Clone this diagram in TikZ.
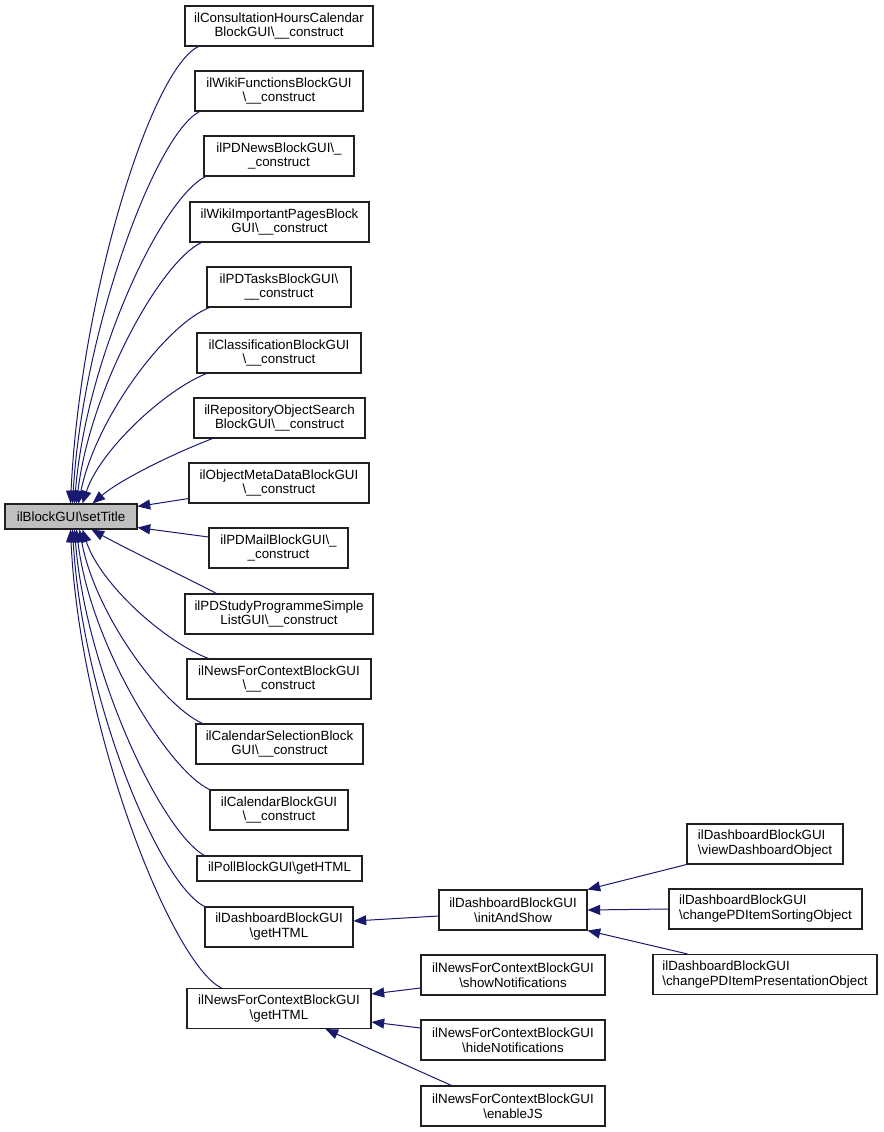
\documentclass[tikz,border=0pt]{standalone}
\usepackage{fontspec}
\setmainfont{Liberation Sans}
\usetikzlibrary{calc,arrows.meta}
\definecolor{edgeblue}{HTML}{191970}
\definecolor{mainfill}{HTML}{BFBFBF}
\definecolor{boxline}{HTML}{202020}
\tikzset{
  box/.style={draw=boxline, line width=0.8pt, fill=white, inner sep=0pt, align=center,
    font=\fontsize{10}{11.2}\selectfont, minimum height=30pt},
  lbox/.style={box, align=left},
  bw/.style={minimum width=#1*0.75pt},
  bh/.style={minimum height=#1*0.75pt},
  edge/.style={draw=edgeblue, line width=0.75pt, -{Triangle[length=9.5pt,width=7.5pt]}},
}
\begin{document}
\begin{tikzpicture}[x=0.75pt,y=-0.75pt]
\useasboundingbox (0,0) rectangle (883,1132);
\def\bs{\textbackslash}
% main node
\node[box, bw=132, bh=25, fill=mainfill] (main) at (71,516.5) {ilBlockGUI\bs setTitle};
% left column
\node[box, bw=188] (cons) at (279,26) {ilConsultationHoursCalendar\\BlockGUI\bs\_\_construct};
\node[box, bw=168] (wikif) at (279,91) {ilWikiFunctionsBlockGUI\\\bs\_\_construct};
\node[box, bw=150] (pdnews) at (279,156) {ilPDNewsBlockGUI\bs\_\\\_construct};
\node[box, bw=179] (wikiimp) at (279.5,222) {ilWikiImportantPagesBlock\\GUI\bs\_\_construct};
\node[box, bw=144] (pdtasks) at (279,287) {ilPDTasksBlockGUI\bs\\\_\_construct};
\node[box, bw=164] (classif) at (279,353) {ilClassificationBlockGUI\\\bs\_\_construct};
\node[box, bw=171] (repo) at (279.5,418) {ilRepositoryObjectSearch\\BlockGUI\bs\_\_construct};
\node[box, bw=180] (objmeta) at (279,483) {ilObjectMetaDataBlockGUI\\\bs\_\_construct};
\node[box, bw=139] (pdmail) at (278.5,548) {ilPDMailBlockGUI\bs\_\\\_construct};
\node[box, bw=188] (pdstudy) at (279,614) {ilPDStudyProgrammeSimple\\ListGUI\bs\_\_construct};
\node[box, bw=184] (nfcc) at (279,679) {ilNewsForContextBlockGUI\\\bs\_\_construct};
\node[box, bw=167] (calsel) at (279.5,744) {ilCalendarSelectionBlock\\GUI\bs\_\_construct};
\node[box, bw=138] (calblk) at (279,810) {ilCalendarBlockGUI\\\bs\_\_construct};
\node[box, bw=165, bh=25] (poll) at (279.5,868.5) {ilPollBlockGUI\bs getHTML};
\node[box, bw=148] (dashhtml) at (279,927) {ilDashboardBlockGUI\\\bs getHTML};
\node[box, bw=184] (nfchtml) at (279,1008.5) {ilNewsForContextBlockGUI\\\bs getHTML};
% middle column
\node[box, bw=148] (init) at (513,910) {ilDashboardBlockGUI\\\bs initAndShow};
\node[box, bw=184] (show) at (513,975) {ilNewsForContextBlockGUI\\\bs showNotifications};
\node[box, bw=184] (hide) at (513,1040) {ilNewsForContextBlockGUI\\\bs hideNotifications};
\node[box, bw=184] (enable) at (513,1106) {ilNewsForContextBlockGUI\\\bs enableJS};
% right column
\node[lbox, bw=156] (view) at (765,844) {ilDashboardBlockGUI\\\bs viewDashboardObject};
\node[lbox, bw=193] (sort) at (765.5,909) {ilDashboardBlockGUI\\\bs changePDItemSortingObject};
\node[lbox, bw=224] (pres) at (765,974.5) {ilDashboardBlockGUI\\\bs changePDItemPresentationObject};
% edges to main (top)
\draw[edge] ($(cons.south west)+(14,0)$) .. controls (150,70) and (80,300) .. ($(main.north west)+(66,0)$);
\draw[edge] ($(wikif.south west)+(5,0)$) .. controls (155,135) and (83,330) .. ($(main.north west)+(68,0)$);
\draw[edge] ($(pdnews.south west)+(2,0)$) .. controls (160,200) and (86,360) .. ($(main.north west)+(70,0)$);
\draw[edge] ($(wikiimp.south west)+(12,0)$) .. controls (160,262) and (90,390) .. ($(main.north west)+(72,0)$);
\draw[edge] ($(pdtasks.south west)+(3,0)$) .. controls (165,325) and (95,420) .. ($(main.north west)+(74,0)$);
\draw[edge] ($(classif.south west)+(10,0)$) .. controls (165,390) and (100,450) .. ($(main.north west)+(78,0)$);
\draw[edge] ($(repo.south west)+(19,0)$) .. controls (170,455) and (120,480) .. ($(main.north west)+(88,0)$);
\draw[edge] ($(objmeta.south west)+(0,-5)$) -- ($(main.north east)+(0,3)$);
\draw[edge] ($(pdmail.west)+(0,-11)$) -- ($(main.south east)+(0,-2)$);
% edges to main (bottom)
\draw[edge] ($(pdstudy.north west)+(32,0)$) .. controls (185,577) and (125,548) .. ($(main.south west)+(87,0)$);
\draw[edge] ($(nfcc.north west)+(22,0)$) .. controls (165,642) and (100,584) .. ($(main.south west)+(78,0)$);
\draw[edge] ($(calsel.north west)+(7,0)$) .. controls (162,705) and (95,614) .. ($(main.south west)+(75,0)$);
\draw[edge] (calblk.north west) .. controls (168,770) and (90,644) .. ($(main.south west)+(72,0)$);
\draw[edge] ($(poll.north west)+(8,0)$) .. controls (162,832) and (86,674) .. ($(main.south west)+(70,0)$);
\draw[edge] (dashhtml.north west) .. controls (160,884) and (83,704) .. ($(main.south west)+(68,0)$);
\draw[edge] ($(nfchtml.north west)+(35,0)$) .. controls (173,965) and (80,734) .. ($(main.south west)+(66,0)$);
% right edges
\draw[edge] ($(init.west)+(0,6)$) -- ($(dashhtml.east)+(0,-6)$);
\draw[edge] ($(show.west)+(0,13)$) -- ($(nfchtml.east)+(0,-14.5)$);
\draw[edge] ($(hide.west)+(0,-12)$) -- ($(nfchtml.east)+(0,13.5)$);
\draw[edge] ($(enable.north west)+(31,0)$) -- ($(nfchtml.south west)+(139,0)$);
\draw[edge] (view.south west) -- (init.north east);
\draw[edge] (sort.west) -- (init.east);
\draw[edge] ($(pres.north west)+(35,0)$) -- (init.south east);
\end{tikzpicture}
\end{document}
